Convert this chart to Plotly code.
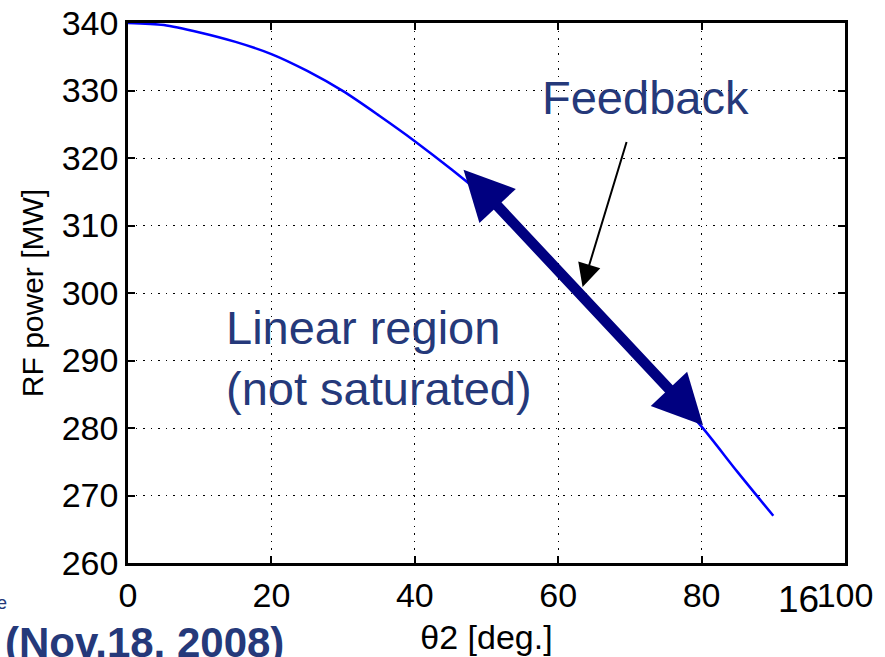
import plotly.graph_objects as go

# RF power versus phase angle theta2
theta2_deg = [0, 5, 10, 15, 20, 25, 30, 35, 40, 45, 50, 55, 60, 65, 70, 75, 80, 85, 90]
rf_power_mw = [340.0, 339.7, 338.6, 337.2, 335.4, 332.9, 329.9, 326.3, 322.5, 318.4,
               314.0, 308.6, 303.0, 297.4, 291.7, 286.0, 280.2, 273.5, 267.0]

x_ticks = [0, 20, 40, 60, 80, 100]
y_ticks = [260, 270, 280, 290, 300, 310, 320, 330, 340]

# feedback operating range along the linear part of the curve
feedback_start = (46.6, 318.5)
feedback_end = (80.2, 280.4)
feedback_pointer_from = (69.6, 322.6)
feedback_pointer_to = (63.4, 300.9)

NAVY_TEXT = "#25397a"
TICK_FONT = dict(family="Liberation Sans", size=34, color="black")

fig = go.Figure()
fig.add_trace(go.Scatter(
    x=theta2_deg, y=rf_power_mw, mode="lines",
    line=dict(color="#0000ff", width=2.5, shape="spline", smoothing=0.8),
    showlegend=False, hoverinfo="skip",
))

axis_common = dict(
    showline=True, linecolor="black", linewidth=2.5, mirror="ticks",
    ticks="inside", ticklen=7, tickwidth=2, tickcolor="black",
    showgrid=True, gridcolor="black", gridwidth=1, griddash="1.5px,6px",
    zeroline=False, tickfont=TICK_FONT, automargin=False,
)

fig.update_xaxes(
    range=[0, 100], tickvals=x_ticks, ticktext=[str(v) for v in x_ticks],
    title=dict(text="θ2 [deg.]", font=dict(family="Liberation Sans", size=34, color="black"), standoff=13),
    **axis_common,
)
fig.update_yaxes(
    range=[260, 340], tickvals=y_ticks, ticktext=[str(v) for v in y_ticks],
    title=dict(text="RF power [MW]", font=dict(family="Liberation Sans", size=30, color="black"), standoff=10),
    **axis_common,
)

annotations = [
    # thick double-headed arrow marking the feedback range
    dict(x=feedback_end[0], y=feedback_end[1], ax=feedback_start[0], ay=feedback_start[1],
         xref="x", yref="y", axref="x", ayref="y", text="", showarrow=True,
         arrowside="end+start", arrowhead=2, arrowsize=0.95, arrowwidth=10.5,
         arrowcolor="#000080"),
    # thin pointer from the label to the curve
    dict(x=feedback_pointer_to[0], y=feedback_pointer_to[1],
         ax=feedback_pointer_from[0], ay=feedback_pointer_from[1],
         xref="x", yref="y", axref="x", ayref="y", text="", showarrow=True,
         arrowhead=2, arrowsize=2.3, arrowwidth=2, arrowcolor="black"),
    dict(x=72.2, y=329.0, xref="x", yref="y", text="Feedback", showarrow=False,
         xanchor="center", yanchor="middle",
         font=dict(family="Liberation Sans", size=47, color=NAVY_TEXT)),
    dict(x=13.4, y=290.4, xref="x", yref="y", text="Linear region<br>(not saturated)",
         showarrow=False, xanchor="left", yanchor="middle", align="left",
         font=dict(family="Liberation Sans", size=47, color=NAVY_TEXT)),
    dict(x=(798 - 128) / 717, y=(563 - 599) / 540, xref="paper", yref="paper",
         text="16", showarrow=False, xanchor="center", yanchor="middle",
         font=dict(family="Liberation Sans", size=37, color="black")),
    dict(x=(3 - 128) / 717, y=(563 - 642) / 540, xref="paper", yref="paper",
         text="<b>(Nov.18, 2008)</b>", showarrow=False, xanchor="left", yanchor="middle",
         font=dict(family="Liberation Sans", size=42, color=NAVY_TEXT)),
    dict(x=(9 - 128) / 717, y=(563 - 603) / 540, xref="paper", yref="paper",
         text="ee", showarrow=False, xanchor="right", yanchor="middle",
         font=dict(family="Liberation Sans", size=18, color=NAVY_TEXT)),
]

fig.update_layout(
    width=885, height=657,
    margin=dict(l=128, r=40, t=23, b=94),
    paper_bgcolor="white", plot_bgcolor="white",
    annotations=annotations,
)

fig.write_html("out.html")
